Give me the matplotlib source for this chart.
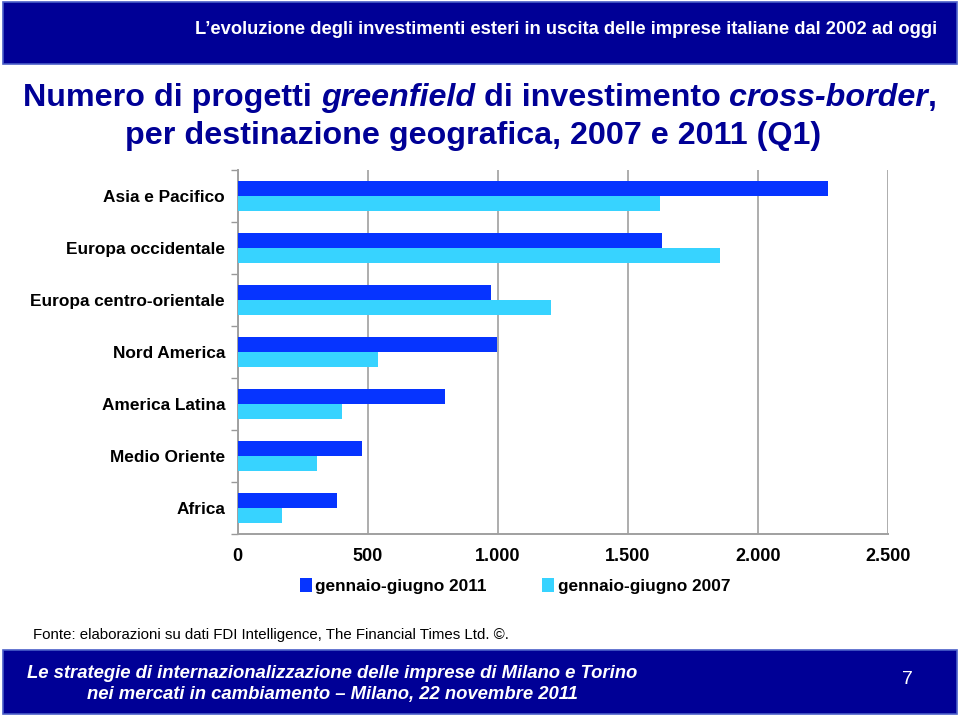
import matplotlib
matplotlib.use("Agg")
import matplotlib.pyplot as plt
from matplotlib.patches import Rectangle
import numpy as np

plt.rcParams['font.family'] = ['Liberation Sans', 'DejaVu Sans']

# data
regions = ["Asia e Pacifico", "Europa occidentale", "Europa centro-orientale",
           "Nord America", "America Latina", "Medio Oriente", "Africa"]
h1_2011 = [2268, 1630, 973, 996, 797, 478, 382]
h1_2007 = [1622, 1853, 1204, 540, 401, 305, 171]
series_names = ["gennaio-giugno 2011", "gennaio-giugno 2007"]
x_ticks = [0, 500, 1000, 1500, 2000, 2500]
x_ticklabels = ["0", "500", "1.000", "1.500", "2.000", "2.500"]

NAVY = "#000096"
DARK_BLUE = "#0634FF"
LIGHT_BLUE = "#37D3FF"
W, H = 960, 716

fig = plt.figure(figsize=(W / 100, H / 100), dpi=100)


def px(x, y):
    """ pixel coords (top-left origin) to figure fraction """
    return x / W, 1 - y / H


# header and footer bands
for y0, y1 in [(2, 64), (650, 714)]:
    fig.patches.append(Rectangle((3 / W, 1 - y1 / H), 954 / W, (y1 - y0) / H,
                                 transform=fig.transFigure, facecolor=NAVY,
                                 edgecolor="#4a5fc8", linewidth=1.2))

fig.text(*px(937, 30), "L\u2019evoluzione degli investimenti esteri in uscita delle imprese italiane dal 2002 ad oggi",
         color="white", fontsize=13.2, fontweight="bold", ha="right", va="center")

# title with italic pieces
fig.canvas.draw()
renderer = fig.canvas.get_renderer()


def draw_pieces(pieces, y, center_x, size):
    texts = []
    for s, style in pieces:
        t = fig.text(0, 0, s, fontsize=size, fontweight="bold", fontstyle=style,
                     color=NAVY, ha="left", va="center")
        texts.append(t)
    widths = [t.get_window_extent(renderer).width for t in texts]
    x = center_x - sum(widths) / 2
    for t, w in zip(texts, widths):
        t.set_position(px(x, y))
        x += w


draw_pieces([("Numero di progetti ", "normal"), ("greenfield", "italic"),
             (" di investimento ", "normal"), ("cross-border", "italic"), (",", "normal")],
            98, 480, 23.2)
draw_pieces([("per destinazione geografica, 2007 e 2011 (Q1)", "normal")], 136, 473, 23.2)

# chart
ax = fig.add_axes([237.5 / W, 1 - 534 / H, (888 - 237.5) / W, (534 - 170) / H])
y = np.arange(len(regions))
bh = 0.29
ax.barh(y - bh / 2, h1_2011, height=bh, color=DARK_BLUE, label=series_names[0], zorder=3)
ax.barh(y + bh / 2, h1_2007, height=bh, color=LIGHT_BLUE, label=series_names[1], zorder=3)
ax.set_ylim(len(regions) - 0.5, -0.5)
ax.set_xlim(0, 2500)
ax.set_xticks(x_ticks)
ax.set_xticklabels(x_ticklabels, fontsize=13, fontweight="bold")
ax.set_yticks(y)
ax.set_yticklabels(regions, fontsize=12.4, fontweight="bold")
ax.set_yticks(np.arange(len(regions) + 1) - 0.5, minor=True)
ax.tick_params(axis="y", which="major", length=0, pad=9)
ax.tick_params(axis="y", which="minor", length=5, color="#999999", width=1)
ax.tick_params(axis="x", length=0, pad=10)
ax.grid(axis="x", color="#a0a0a0", linewidth=1.2, zorder=0)
for side in ["top", "right"]:
    ax.spines[side].set_visible(False)
for side in ["left", "bottom"]:
    ax.spines[side].set_color("#a0a0a0")
    ax.spines[side].set_linewidth(1.4)

fig.legend(loc="center", bbox_to_anchor=px(515, 586), ncol=2, frameon=False,
           prop={"size": 12.4, "weight": "bold"}, handlelength=0.7, handleheight=0.9,
           handletextpad=0.2, columnspacing=3.2)

fig.text(*px(33, 635), "Fonte: elaborazioni su dati FDI Intelligence, The Financial Times Ltd. \u00a9.",
         fontsize=10.8, ha="left", va="center")

# footer
fig.text(*px(27, 673), "Le strategie di internazionalizzazione delle imprese di Milano e Torino",
         color="white", fontsize=13.3, fontweight="bold", fontstyle="italic", ha="left", va="center")
fig.text(*px(332, 695), "nei mercati in cambiamento \u2013 Milano, 22 novembre 2011",
         color="white", fontsize=13.3, fontweight="bold", fontstyle="italic", ha="center", va="center")
fig.text(*px(907, 680), "7", color="white", fontsize=14, ha="center", va="center")

fig.savefig("out.png", dpi=100)
